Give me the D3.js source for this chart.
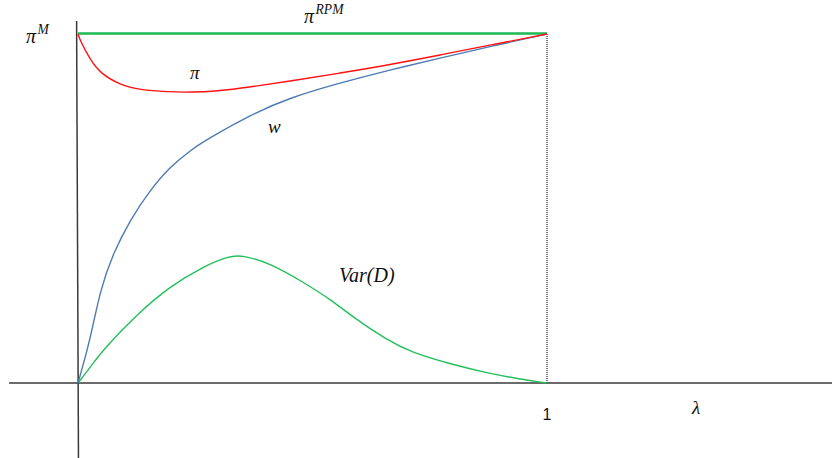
<!DOCTYPE html>
<html>
<head>
<meta charset="utf-8">
<script src="https://cdn.jsdelivr.net/npm/d3@7/dist/d3.min.js"></script>
<style>
  html, body { margin: 0; padding: 0; background: #fff; }
  svg { display: block; }
  .math { font-family: "Liberation Serif", "Times New Roman", serif; font-style: italic; fill: #111; }
</style>
</head>
<body>
<svg id="chart" width="832" height="458"></svg>
<script>
// λ in [0, 1], profits normalised so that π^M = 1
const lambdaPi  = [0, 0.004, 0.026, 0.047, 0.090, 0.132, 0.190, 0.240, 0.296, 0.367, 0.452, 0.559, 0.665, 0.772, 0.878, 1];
const profitPi  = [1, 0.983, 0.926, 0.888, 0.854, 0.840, 0.834, 0.833, 0.836, 0.848, 0.865, 0.888, 0.912, 0.940, 0.968, 1];

const lambdaW   = [0, 0.026, 0.047, 0.075, 0.111, 0.154, 0.196, 0.239, 0.275, 0.367, 0.452, 0.559, 0.665, 0.772, 0.878, 1];
const wageW     = [0, 0.123, 0.266, 0.372, 0.467, 0.553, 0.619, 0.666, 0.698, 0.768, 0.818, 0.860, 0.897, 0.931, 0.964, 1];

const lambdaVar = [0, 0.030, 0.053, 0.126, 0.196, 0.267, 0.322, 0.350, 0.409, 0.480, 0.537, 0.586, 0.659, 0.708, 0.800, 0.872, 0.942, 1];
const varD      = [0, 0.052, 0.095, 0.197, 0.277, 0.334, 0.364, 0.366, 0.344, 0.289, 0.241, 0.189, 0.123, 0.089, 0.052, 0.029, 0.011, 0];

const piRPM = 1;          // flat profit level
const piM = 1;            // monopoly profit
const xTicks = [1];       // labelled λ tick

const svg = d3.select("#chart");
const x = d3.scaleLinear().domain([0, 1]).range([78, 547]);
const y = d3.scaleLinear().domain([0, 1]).range([383, 34]);

// axes through the origin
svg.append("line")
  .attr("x1", x(-0.147)).attr("x2", x(1.608))
  .attr("y1", y(0)).attr("y2", y(0))
  .attr("stroke", "#3a3a3a").attr("stroke-width", 1.5);
svg.append("line")
  .attr("x1", x(-0.003)).attr("x2", x(0.001))
  .attr("y1", y(1.037)).attr("y2", y(-0.215))
  .attr("stroke", "#3a3a3a").attr("stroke-width", 1.5);

// dotted guide at λ = 1
svg.append("line")
  .attr("x1", x(1)).attr("x2", x(1))
  .attr("y1", y(piM)).attr("y2", y(0))
  .attr("stroke", "#222").attr("stroke-width", 1.2)
  .attr("stroke-dasharray", "1,1");

const line = d3.line().x(d => x(d[0])).y(d => y(d[1])).curve(d3.curveBasis);

// π^RPM level
svg.append("path")
  .datum([[0, piRPM], [1, piRPM]])
  .attr("d", d3.line().x(d => x(d[0])).y(d => y(d[1]) - 0.5))
  .attr("fill", "none").attr("stroke", "#1db954").attr("stroke-width", 2.4);

svg.append("path")
  .datum(d3.zip(lambdaVar, varD))
  .attr("d", line)
  .attr("fill", "none").attr("stroke", "#22c05a").attr("stroke-width", 1.4);

svg.append("path")
  .datum(d3.zip(lambdaW, wageW))
  .attr("d", line)
  .attr("fill", "none").attr("stroke", "#4d7ab0").attr("stroke-width", 1.4);

svg.append("path")
  .datum(d3.zip(lambdaPi, profitPi))
  .attr("d", line)
  .attr("fill", "none").attr("stroke", "#ff1010").attr("stroke-width", 1.4);

// labels
function mathLabel(px, py, base, sup, size) {
  const t = svg.append("text").attr("class", "math")
    .attr("x", px).attr("y", py).attr("font-size", size);
  t.append("tspan").text(base);
  if (sup) {
    t.append("tspan").attr("font-size", size * 0.68).attr("dy", -size * 0.45)
      .attr("dx", 1.5).text(sup);
  }
}
mathLabel(26, 43, "π", "M", 20);
mathLabel(304, 23, "π", "RPM", 20);
mathLabel(190, 79, "π", null, 19);
mathLabel(268, 133, "w", null, 19);
mathLabel(339, 282, "Var(D)", null, 20);
mathLabel(692, 414, "λ", null, 19);

svg.selectAll(".tick-label").data(xTicks).enter().append("text")
  .attr("class", "tick-label")
  .attr("x", d => x(d)).attr("y", 420)
  .attr("text-anchor", "middle")
  .attr("font-family", "Liberation Sans, Arial, sans-serif")
  .attr("font-size", 16).attr("fill", "#111")
  .text(d => d);
</script>
</body>
</html>
